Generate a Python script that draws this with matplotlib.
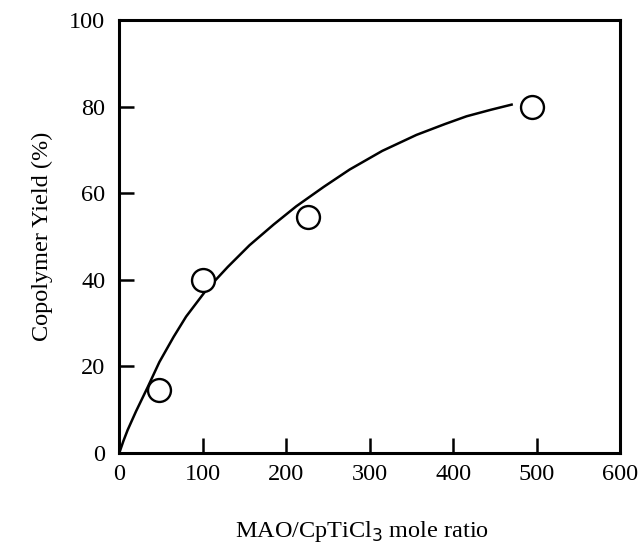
import matplotlib
matplotlib.use('Agg')
import matplotlib.pyplot as plt

# measured points
ratio = [48, 100, 226, 495]
yield_pct = [14.5, 40, 54.5, 80]

# fitted curve
curve_x = [0, 5, 10, 20, 34, 48, 65, 80, 104, 130, 156, 185, 212, 245, 276, 315, 356, 390, 416, 445, 470]
curve_y = [0, 2.8, 5.3, 9.6, 15.2, 21, 26.8, 31.5, 37.6, 43, 48, 52.8, 57, 61.5, 65.5, 69.8, 73.5, 76, 77.8, 79.3, 80.5]

plt.rcParams['font.family'] = ['Liberation Serif', 'DejaVu Serif']

fig = plt.figure(figsize=(6.38, 5.47), dpi=100)
ax = fig.add_axes([0.187, 0.172, 0.785, 0.791])

ax.plot(curve_x, curve_y, color='black', linewidth=1.8)
ax.plot(ratio, yield_pct, linestyle='none', marker='o', markersize=16.5,
        markerfacecolor='white', markeredgecolor='black', markeredgewidth=1.7)

ax.set_xlim(0, 600)
ax.set_ylim(0, 100)
ax.set_xticks([0, 100, 200, 300, 400, 500, 600])
ax.set_yticks([0, 20, 40, 60, 80, 100])
ax.tick_params(direction='in', length=11, width=1.8, labelsize=17.5, top=False, right=False)
ax.tick_params(axis='x', pad=8)
ax.tick_params(axis='y', pad=10)
for s in ax.spines.values():
    s.set_linewidth(2.2)

ax.set_xlabel('MAO/CpTiCl$_3$ mole ratio', fontsize=17.5)
ax.xaxis.set_label_coords(0.485, -0.152)
ax.set_ylabel('Copolymer Yield (%)', fontsize=17.5, labelpad=12)

plt.savefig('out.png', dpi=100)
